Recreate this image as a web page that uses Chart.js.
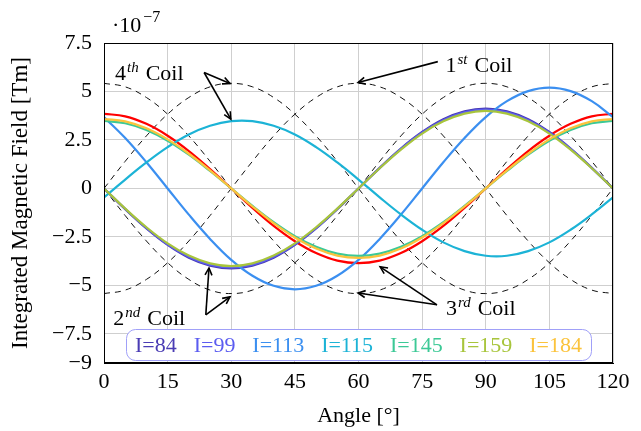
<!DOCTYPE html>
<html><head><meta charset="utf-8">
<script src="https://cdn.jsdelivr.net/npm/chart.js@4/dist/chart.umd.min.js"></script>
<style>html,body{margin:0;padding:0;background:#fff}#wrap{width:641px;height:431px;position:relative}</style>
</head><body><div id="wrap"><canvas id="c" width="641" height="431"></canvas></div>
<script>
// ---- data (values in units of 1e-7 Tm) ----
const angles = [0,5,10,15,20,25,30,35,40,45,50,55,60,65,70,75,80,85,90,95,100,105,110,115,120];
const coil1 = [-5.42,-5.24,-4.69,-3.83,-2.71,-1.40,0,1.40,2.71,3.83,4.69,5.24,5.42,5.24,4.69,3.83,2.71,1.40,0,-1.40,-2.71,-3.83,-4.69,-5.24,-5.42];
const coil2 = [0,-1.40,-2.71,-3.83,-4.69,-5.24,-5.42,-5.24,-4.69,-3.83,-2.71,-1.40,0,1.40,2.71,3.83,4.69,5.24,5.42,5.24,4.69,3.83,2.71,1.40,0];
const coil3 = [5.42,5.24,4.69,3.83,2.71,1.40,0,-1.40,-2.71,-3.83,-4.69,-5.24,-5.42,-5.24,-4.69,-3.83,-2.71,-1.40,0,1.40,2.71,3.83,4.69,5.24,5.42];
const coil4 = [0,1.40,2.71,3.83,4.69,5.24,5.42,5.24,4.69,3.83,2.71,1.40,0,-1.40,-2.71,-3.83,-4.69,-5.24,-5.42,-5.24,-4.69,-3.83,-2.71,-1.40,0];
const redCurve = [3.85,3.72,3.33,2.72,1.93,1.00,0,-1.00,-1.93,-2.72,-3.33,-3.72,-3.85,-3.72,-3.33,-2.72,-1.93,-1.00,0,1.00,1.93,2.72,3.33,3.72,3.85];
const i84  = [0,-1.07,-2.06,-2.91,-3.57,-3.98,-4.12,-3.98,-3.57,-2.91,-2.06,-1.07,0,1.07,2.06,2.91,3.57,3.98,4.12,3.98,3.57,2.91,2.06,1.07,0];
const i99  = [0,-1.05,-2.04,-2.88,-3.52,-3.93,-4.07,-3.93,-3.52,-2.88,-2.04,-1.05,0,1.05,2.04,2.88,3.52,3.93,4.07,3.93,3.52,2.88,2.04,1.05,0];
const i113 = [3.68,2.60,1.35,0,-1.35,-2.60,-3.68,-4.50,-5.02,-5.20,-5.02,-4.50,-3.68,-2.60,-1.35,0,1.35,2.60,3.68,4.50,5.02,5.20,5.02,4.50,3.68];
const i115 = [-0.46,0.46,1.34,2.13,2.78,3.23,3.47,3.47,3.23,2.78,2.13,1.34,0.46,-0.46,-1.34,-2.13,-2.78,-3.23,-3.47,-3.47,-3.23,-2.78,-2.13,-1.34,-0.46];
const i145 = [3.48,3.36,3.01,2.46,1.74,0.90,0,-0.90,-1.74,-2.46,-3.01,-3.36,-3.48,-3.36,-3.01,-2.46,-1.74,-0.90,0,0.90,1.74,2.46,3.01,3.36,3.48];
const i159 = [0,-1.04,-2.00,-2.83,-3.46,-3.86,-4.00,-3.86,-3.46,-2.83,-2.00,-1.04,0,1.04,2.00,2.83,3.46,3.86,4.00,3.86,3.46,2.83,2.00,1.04,0];
const i184 = [3.58,3.46,3.10,2.53,1.79,0.93,0,-0.93,-1.79,-2.53,-3.10,-3.46,-3.58,-3.46,-3.10,-2.53,-1.79,-0.93,0,0.93,1.79,2.53,3.10,3.46,3.58];

const seriesLabels = ['I=84','I=99','I=113','I=115','I=145','I=159','I=184'];
const seriesValues = [i84, i99, i113, i115, i145, i159, i184];
const seriesColors = ['#4a3cb4','#5b5cf0','#3b8ff0','#1cb3d6','#3cc996','#a8c53c','#fbc33c'];
const coilValues = [coil1, coil2, coil3, coil4];
const xTicks = [0,15,30,45,60,75,90,105,120];
const yTicks = [-9,-7.5,-5,-2.5,0,2.5,5,7.5];
const xTitle = 'Angle [°]';
const yTitle = 'Integrated Magnetic Field [Tm]';
const exponentBase = '·10';
const exponentPow = '\u22127';
// annotations: label pieces, text anchor (data), arrow start (data), arrow ends (data)
const annotations = [
  {n:'4', sup:'th', word:'Coil', at:[2.6,5.6],  from:[23.6,5.98], to:[[29.7,5.41],[29.9,3.57]]},
  {n:'1', sup:'st', word:'Coil', at:[80.5,6.0], from:[78.7,6.54], to:[[59.9,5.46]]},
  {n:'2', sup:'nd', word:'Coil', at:[2.2,-7.03],from:[24.0,-6.52],to:[[24.75,-4.10],[29.7,-5.59]]},
  {n:'3', sup:'rd', word:'Coil', at:[80.6,-6.5],from:[78.5,-6.0], to:[[65.1,-4.04],[59.9,-5.39]]}
];

const SERIF = "'Liberation Serif', 'DejaVu Serif', serif";
const pts = vals => angles.map((a,i)=>({x:a, y:vals[i]}));

const datasets = [];
let paint = 0;
coilValues.forEach((v)=>{
  datasets.push({label:'coil', data:pts(v), borderColor:'#111', borderWidth:1, borderDash:[6,5],
    pointRadius:0, tension:0.4, fill:false, order:100-(paint++)});
});
datasets.push({label:'red', data:pts(redCurve), borderColor:'#ff0000', borderWidth:2.2, pointRadius:0, tension:0.4, fill:false, order:100-(paint++)});
seriesValues.forEach((v,i)=>{
  datasets.push({label:seriesLabels[i], data:pts(v), borderColor:seriesColors[i], borderWidth:2.2,
    pointRadius:0, tension:0.4, fill:false, order:100-(paint++)});
});

const fmt = v => v===0 ? '0' : (v<0 ? '\u2212' : '') + Math.abs(v);

const overlay = {
  id:'overlay',
  afterDraw(chart){
    const {ctx, chartArea:ca, scales:{x, y}} = chart;
    ctx.save();
    // frame
    ctx.strokeStyle = '#000'; ctx.lineWidth = 1;
    ctx.strokeRect(Math.round(ca.left)+0.5, Math.round(ca.top)+0.5, Math.round(ca.right-ca.left)-1, Math.round(ca.bottom-ca.top)-1);
    // exponent
    ctx.fillStyle = '#000'; ctx.textBaseline = 'alphabetic'; ctx.textAlign = 'left';
    ctx.font = '22px ' + SERIF;
    ctx.fillText(exponentBase, ca.left + 8, ca.top - 11);
    const w = ctx.measureText(exponentBase).width;
    ctx.font = '16px ' + SERIF;
    ctx.fillText(exponentPow, ca.left + 10 + w, ca.top - 21);
    // annotations
    annotations.forEach(a=>{
      let px = x.getPixelForValue(a.at[0]), py = y.getPixelForValue(a.at[1]);
      ctx.fillStyle = '#000';
      ctx.font = '22px ' + SERIF;
      ctx.fillText(a.n, px, py);
      px += ctx.measureText(a.n).width + 1;
      ctx.font = 'italic 15px ' + SERIF;
      ctx.fillText(a.sup, px, py - 8);
      px += ctx.measureText(a.sup).width + 7;
      ctx.font = '22px ' + SERIF;
      ctx.fillText(a.word, px, py);
      const sx = x.getPixelForValue(a.from[0]), sy = y.getPixelForValue(a.from[1]);
      a.to.forEach(t=>{
        const ex = x.getPixelForValue(t[0]), ey = y.getPixelForValue(t[1]);
        ctx.strokeStyle = '#000'; ctx.lineWidth = 1.6; ctx.setLineDash([]);
        ctx.beginPath(); ctx.moveTo(sx, sy); ctx.lineTo(ex, ey); ctx.stroke();
        const ang = Math.atan2(ey-sy, ex-sx), L = 8, spread = 0.45;
        ctx.beginPath();
        ctx.moveTo(ex - L*Math.cos(ang-spread), ey - L*Math.sin(ang-spread));
        ctx.lineTo(ex, ey);
        ctx.lineTo(ex - L*Math.cos(ang+spread), ey - L*Math.sin(ang+spread));
        ctx.stroke();
      });
    });
    // legend box
    ctx.font = '22px ' + SERIF;
    const widths = seriesLabels.map(s=>ctx.measureText(s).width);
    const target = 447;
    const sum = widths.reduce((p,c)=>p+c,0);
    const g = Math.max(9, (target - sum) / (seriesLabels.length-1));
    const total = sum + g*(seriesLabels.length-1);
    const cx = (ca.left + ca.right)/2;
    const bx = cx - total/2 - 9, bw = total + 18, by = ca.bottom - 34, bh = 31;
    ctx.fillStyle = '#fff'; ctx.strokeStyle = '#a0a0f8'; ctx.lineWidth = 1;
    ctx.beginPath(); ctx.roundRect(bx+0.5, by+0.5, bw, bh, 9); ctx.fill(); ctx.stroke();
    let tx = cx - total/2;
    seriesLabels.forEach((s,i)=>{
      ctx.fillStyle = seriesColors[i];
      ctx.fillText(s, tx, by + 23);
      tx += widths[i] + g;
    });
    ctx.restore();
  }
};

new Chart(document.getElementById('c'), {
  type:'line',
  data:{datasets},
  plugins:[overlay],
  options:{
    responsive:false, animation:false, devicePixelRatio:1,
    layout:{padding:{top:43, right:28, left:0, bottom:0}},
    plugins:{legend:{display:false}, tooltip:{enabled:false}},
    scales:{
      x:{type:'linear', min:0, max:120,
        afterBuildTicks: s => { s.ticks = xTicks.map(v=>({value:v})); },
        afterFit: s => { s.height = 68; },
        grid:{color:'#cfcfcf', lineWidth:1, drawTicks:false},
        border:{display:true, color:'#000', width:1},
        ticks:{color:'#000', font:{family:SERIF, size:22}, padding:6, maxRotation:0, autoSkip:false},
        title:{display:true, text:xTitle, color:'#000', font:{family:SERIF, size:22}, padding:{top:0, bottom:2}}
      },
      y:{type:'linear', min:-9, max:7.5,
        afterBuildTicks: s => { s.ticks = yTicks.map(v=>({value:v})); },
        afterFit: s => { s.width = 104; },
        grid:{color:'#cfcfcf', lineWidth:1, drawTicks:false},
        border:{display:true, color:'#000', width:1},
        ticks:{color:'#000', font:{family:SERIF, size:22}, padding:12, autoSkip:false, callback: v => fmt(v)},
        title:{display:true, text:yTitle, color:'#000', font:{family:SERIF, size:23}, padding:{top:7, bottom:0}}
      }
    }
  }
});
</script></body></html>
